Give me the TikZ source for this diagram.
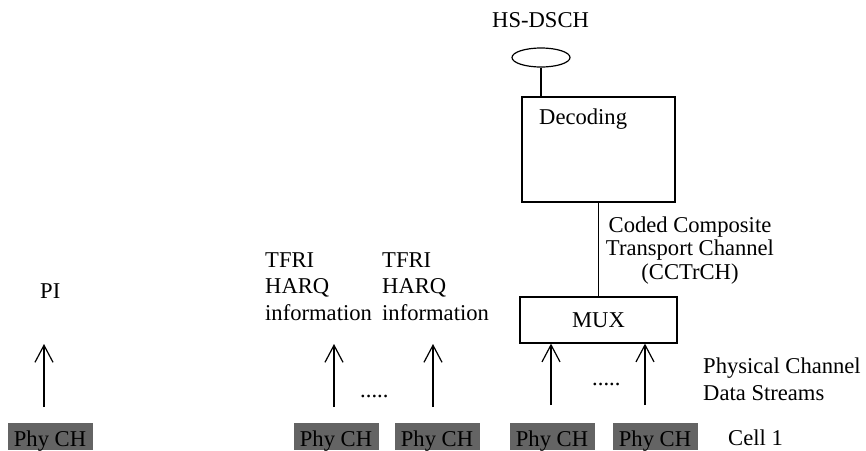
\documentclass[tikz,border=0pt]{standalone}
\usepackage{fontspec}
\setmainfont{Liberation Serif}
\usetikzlibrary{shapes.geometric,arrows.meta}
\definecolor{phygray}{RGB}{100,100,100}
\newcommand{\diafont}{\fontsize{22.6}{26.5}\selectfont}

\begin{document}
\begin{tikzpicture}[x=1pt,y=-1pt,>={Straight Barb[length=17pt,width=18pt]}]

\tikzstyle{txt}=[inner sep=0pt, anchor=base west, align=left, font=\diafont]
\tikzstyle{phych}=[fill=phygray, inner sep=0pt, minimum width=85pt, minimum height=27pt, text height=22pt, text depth=2pt, font=\diafont]
\tikzstyle{blk}=[draw, line width=1.2pt, inner sep=0pt, font=\diafont]
\tikzstyle{sig}=[->, line width=1.2pt]

\useasboundingbox (0,0) rectangle (866,450);

% transport channel side
\node(hs)[txt] at (492,27) {HS-DSCH};
\node(ell)[blk, ellipse, minimum width=58pt, minimum height=19pt] at (541,57.5) {};
\node(dec)[blk, minimum width=153pt, minimum height=105pt] at (598.5,149.5) {};
\node(dect)[txt] at (539,124) {Decoding};
\node(mux)[blk, minimum width=157pt, minimum height=46pt] at (598.5,320) {MUX};
\node(cct)[txt, anchor=base, align=center, font=\fontsize{22.6}{23.5}\selectfont] at (690,279) {Coded Composite\\Transport Channel\\(CCTrCH)};

\draw[line width=1.2pt] (ell.south) -- (ell.south |- dec.north);
\draw[line width=1.2pt] (dec) -- (mux);

% indicators
\node(pi)[txt] at (40,298) {PI};
\node(tfri1)[txt] at (265,320) {TFRI\\HARQ\\information};
\node(tfri2)[txt] at (382,320) {TFRI\\HARQ\\information};
\node(pcds)[txt, font=\fontsize{22.6}{27}\selectfont] at (703,400) {Physical Channel\\Data Streams};
\node(cell)[txt] at (728,445) {Cell 1};
\node(dots1)[txt] at (360,397) {.....};
\node(dots2)[txt] at (592,385) {.....};

% physical channels
\foreach \n/\x in {1/50, 2/336, 3/437, 4/552, 5/655}
  \node(phy\n)[phych] at (\x,436.5) {Phy CH};

% arrows
\foreach \n/\x in {1/44, 2/334, 3/433}
{
  \coordinate (t\n) at (\x,407);
  \draw[sig] (t\n) -- ++(0,-63);
}
\foreach \n/\x in {4/551, 5/645}
{
  \coordinate (t\n) at (\x,405);
  \draw[sig] (t\n) -- (t\n |- mux.south);
}

\end{tikzpicture}
\end{document}
